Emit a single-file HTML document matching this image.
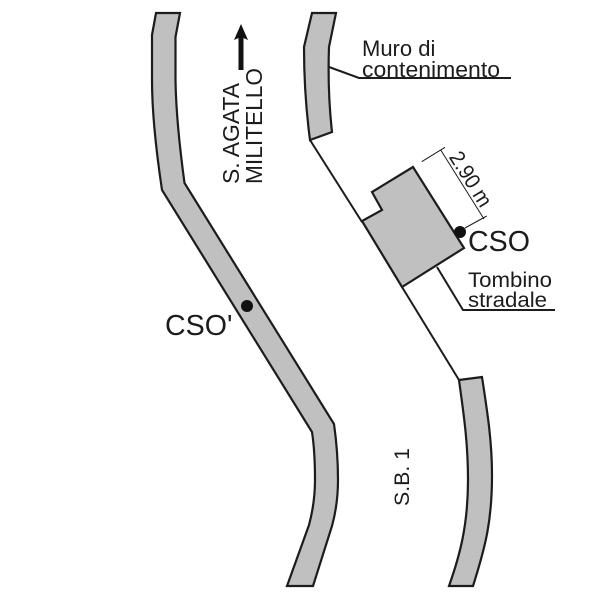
<!DOCTYPE html>
<html><head><meta charset="utf-8"><style>html,body{margin:0;padding:0;background:#fff}svg{display:block}text{font-family:"Liberation Sans",sans-serif;fill:#1c1c1c}</style></head><body>
<svg width="600" height="600" viewBox="0 0 600 600" xmlns="http://www.w3.org/2000/svg">
<g fill="#c0c0c0" stroke="#1c1c1c" stroke-width="2.200" stroke-linejoin="miter">
<path d="M156 13L180 13L175.500 37L175.500 80C176 115 180 150 184.500 183L334 424C337 445 338 465 338 480C338 500 335 515 332 526L313 586L287 586L309 525C313 510 315 495 315 480C315 460 314 445 312 432L162 190C156 150 152 110 152 80L152 35Z"/>
<path d="M312 13L336 13L329 47C328 75 329 105 332 132L310 140C306 110 304 80 304 47Z"/>
<path d="M459 380L482 377C487 410 492 440 492 475C492 520 486 545 473 586L449 586C460 555 468 525 468 480C468 440 463 410 459 380Z"/>
<path d="M413 167L372 192L382 210L362 221L402 287L464 248Z"/>
</g>
<g fill="none" stroke="#1c1c1c" stroke-width="2">
<path d="M310 140L362 222"/><path d="M402 287L459 380"/>
<path d="M329 67L359 78L511 78"/>
<path d="M437 267L463 310L555 310"/>
</g>
<g fill="none" stroke="#1c1c1c" stroke-width="1">
<path d="M421.700 161.700L445 147.300"/><path d="M465 228L486.700 216"/><path d="M440.700 150L484 219"/>
</g>
<circle cx="460" cy="232" r="6" fill="#111"/>
<circle cx="247" cy="306" r="6" fill="#111"/>
<path d="M238.500 70L238.500 38L234 40L241 24L248 40L243.500 38L243.500 70Z" fill="#111"/>
<text x="362" y="56" font-size="22">Muro di</text>
<text x="362" y="77" font-size="22.500" textLength="138" lengthAdjust="spacingAndGlyphs">contenimento</text>
<text x="468" y="251" font-size="28.600">CSO</text>
<text x="165" y="335" font-size="28.600">CSO'</text>
<text x="468" y="287" font-size="21.600" textLength="84" lengthAdjust="spacingAndGlyphs">Tombino</text>
<text x="468" y="307" font-size="21.600" textLength="79" lengthAdjust="spacingAndGlyphs">stradale</text>
<text transform="translate(239 184) rotate(-90)" font-size="23" textLength="101" lengthAdjust="spacingAndGlyphs">S. AGATA</text>
<text transform="translate(262 184) rotate(-90)" font-size="23" textLength="116" lengthAdjust="spacingAndGlyphs">MILITELLO</text>
<text transform="translate(409 506) rotate(-90)" font-size="21.500" textLength="58" lengthAdjust="spacingAndGlyphs">S.B. 1</text>
<text transform="translate(448.500 157) rotate(58)" font-size="21.500" textLength="61" lengthAdjust="spacingAndGlyphs">2.90 m</text>
</svg>
</body></html>
